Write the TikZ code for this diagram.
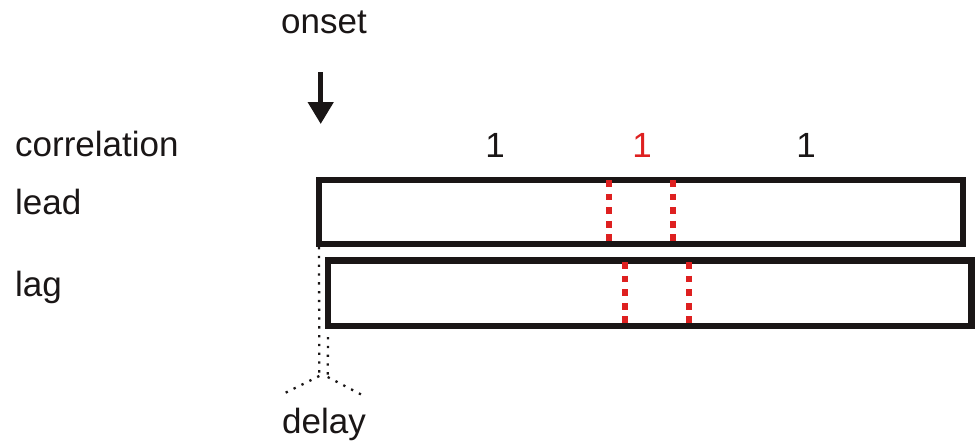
\documentclass[tikz,border=0pt]{standalone}
\usepackage{fontspec}
\setmainfont{Liberation Sans}
\usetikzlibrary{arrows.meta}
\definecolor{dred}{RGB}{222,32,32}
\definecolor{ink}{RGB}{26,22,22}
\begin{document}
\begin{tikzpicture}[x=1pt,y=-1pt,
  lbl/.style={inner sep=0pt, font=\fontsize{35}{42}\selectfont, text=ink},
  boxnode/.style={draw=ink, line width=6.5pt, inner sep=0pt, outer sep=0pt, anchor=north west},
  reddash/.style={draw=dred, line width=6.3pt, dash pattern=on 6.7pt off 6.9pt},
  dotline/.style={draw=ink, line width=2.3pt, dash pattern=on 2.3pt off 6.5pt}]
\useasboundingbox (0,0) rectangle (979,445);
% labels
\node[lbl, anchor=base] (onset) at (324,33) {onset};
\node[lbl, anchor=base west] (corr) at (15,156) {correlation};
\node[lbl, anchor=base west] (leadl) at (15,214) {lead};
\node[lbl, anchor=base west] (lagl) at (15,296) {lag};
\node[lbl, anchor=base] (c1) at (495,157) {1};
\node[lbl, anchor=base, text=dred] (c2) at (642,157) {1};
\node[lbl, anchor=base] (c3) at (806,157) {1};
\node[lbl, anchor=base] (delay) at (324,433) {delay};
% boxes
\node[boxnode, minimum width=644pt, minimum height=64pt] (leadbox) at (319,180) {};
\node[boxnode, minimum width=643.5pt, minimum height=65.5pt] (lagbox) at (328,260.5) {};
% onset arrow
\coordinate (atop) at (320.7,72);
\coordinate (atip) at (320.7,124);
\draw[ink, line width=4.7pt, -{Triangle[length=22pt,width=25pt]}] (atop) -- (atip);
% red dashed lines
\draw[reddash] (609,180) -- (leadbox.south -| 609,0);
\draw[reddash] (673,180) -- (leadbox.south -| 673,0);
\draw[reddash] (625,262) -- (lagbox.south -| 625,0);
\draw[reddash] (689,262) -- (lagbox.south -| 689,0);
% delay dotted lines
\coordinate (d1) at (319.3,376);
\coordinate (d2) at (327.7,377);
\coordinate (dl) at (283,394);
\coordinate (dr) at (364,396);
\draw[dotline] (leadbox.south west) ++(0,3) -- (d1);
\draw[dotline] (lagbox.south west) ++(0,11) -- (d2);
\draw[dotline] (d1) -- (dl);
\draw[dotline] (d2) -- (dr);
\end{tikzpicture}
\end{document}
